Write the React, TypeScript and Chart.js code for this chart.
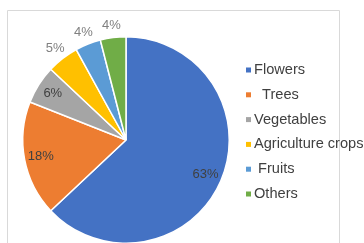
import React, { useEffect, useRef } from "react";
import { Chart, registerables } from "chart.js";

Chart.register(...registerables);

const categories = ["Flowers", "  Trees", "Vegetables", "Agriculture crops", " Fruits", "Others"];
const shares = [63, 18, 6, 5, 4, 4];
const percentLabels = ["63%", "18%", "6%", "5%", "4%", "4%"];
const colors = ["#4472C4", "#ED7D31", "#A5A5A5", "#FFC000", "#5B9BD5", "#70AD47"];
const labelOutside = [false, false, false, true, true, true];

const framePlugin = {
  id: "frame",
  beforeDraw(chart: any) {
    const ctx = chart.ctx;
    ctx.save();
    ctx.strokeStyle = "#d9d9d9";
    ctx.lineWidth = 1;
    ctx.beginPath();
    ctx.moveTo(7.5, 400);
    ctx.lineTo(7.5, 10.5);
    ctx.lineTo(339.5, 10.5);
    ctx.lineTo(339.5, 400);
    ctx.stroke();
    ctx.restore();
  },
};

const labelsPlugin = {
  id: "sliceLabels",
  afterDatasetsDraw(chart: any) {
    const ctx = chart.ctx;
    const meta = chart.getDatasetMeta(0);
    ctx.save();
    ctx.font = "13px 'Liberation Sans', Arial, sans-serif";
    ctx.textAlign = "center";
    ctx.textBaseline = "middle";
    meta.data.forEach((arc: any, i: number) => {
      const p = arc.getProps(["x", "y", "startAngle", "endAngle", "outerRadius"], true);
      const mid = (p.startAngle + p.endAngle) / 2;
      const k = labelOutside[i] ? 1.12 : 0.84;
      const x = p.x + Math.cos(mid) * p.outerRadius * k;
      const y = p.y + Math.sin(mid) * p.outerRadius * k;
      ctx.fillStyle = labelOutside[i] ? "#808080" : "#404040";
      ctx.fillText(percentLabels[i], x, y);
    });
    ctx.restore();
  },
};

const legendPlugin = {
  id: "sideLegend",
  afterDraw(chart: any) {
    const ctx = chart.ctx;
    ctx.save();
    ctx.font = "14.6px 'Liberation Sans', Arial, sans-serif";
    ctx.textBaseline = "middle";
    ctx.textAlign = "left";
    categories.forEach((name, i) => {
      const y = 70 + i * 24.8;
      ctx.fillStyle = colors[i];
      ctx.fillRect(246, y - 2.5, 5, 5);
      ctx.fillStyle = "#404040";
      ctx.fillText(name, 254, y);
    });
    ctx.restore();
  },
};

export default function App() {
  const ref = useRef<HTMLCanvasElement>(null);
  useEffect(() => {
    if (!ref.current) return;
    const chart = new Chart(ref.current, {
      type: "pie",
      data: {
        labels: categories,
        datasets: [
          {
            data: shares,
            backgroundColor: colors,
            borderColor: "#ffffff",
            borderWidth: 1.5,
          },
        ],
      },
      options: {
        responsive: false,
        animation: false,
        layout: { padding: { left: 22, right: 134, top: 36, bottom: 16 } },
        plugins: { legend: { display: false }, tooltip: { enabled: false } },
      },
      plugins: [framePlugin, labelsPlugin, legendPlugin],
    });
    return () => chart.destroy();
  }, []);
  return (
    <div style={{ position: "fixed", left: 0, top: 0, width: 364, height: 243, overflow: "hidden", background: "#fff" }}>
      <canvas ref={ref} width={364} height={260} style={{ width: 364, height: 260, display: "block" }} />
    </div>
  );
}
